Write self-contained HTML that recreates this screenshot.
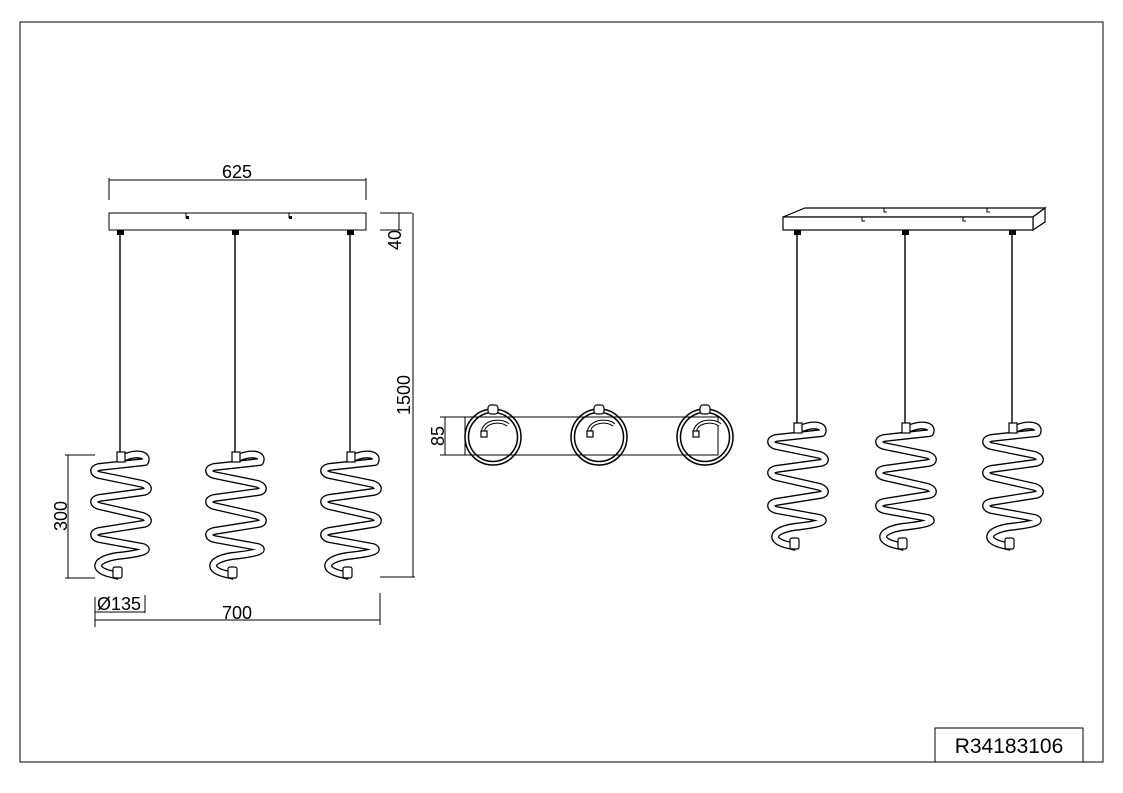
<!DOCTYPE html>
<html><head><meta charset="utf-8"><style>
html,body{margin:0;padding:0;background:#fff}
svg{display:block}
text{font-family:"Liberation Sans",Arial,sans-serif;fill:#000}
</style></head><body>
<svg width="1123" height="793" viewBox="0 0 1123 793" xmlns="http://www.w3.org/2000/svg">
<defs>
<path id="rib" d="M2,6 C15,0 28,2 24,10 L-22,15 C-29,17 -28,21 -22,23 L22,32 C29,35 28,39 22,40 L-22,46 C-29,48 -28,52 -22,54 L22,64 C29,67 28,71 22,72 L-22,79 C-29,81 -28,85 -22,87 L22,95 C29,98 24,101 -4,104 C-28,108 -28,118 -10,122 L-2,124" fill="none" stroke-linejoin="round"/>
<g id="sp">
 <use href="#rib" stroke="#000" stroke-width="8"/>
 <use href="#rib" stroke="#fff" stroke-width="5.4"/>
 <rect x="-4" y="0" width="8" height="10" fill="#fff" stroke="#000" stroke-width="1.2"/>
 <rect x="-8" y="115" width="9" height="11" rx="2" fill="#fff" stroke="#000" stroke-width="1.2"/>
</g>
<g id="ring">
 <circle cx="0" cy="0" r="28" fill="none" stroke="#000" stroke-width="1.5"/>
 <circle cx="0" cy="0" r="24.5" fill="none" stroke="#000" stroke-width="1.5"/>
 <rect x="-5" y="-32" width="10" height="9" rx="3" fill="#fff" stroke="#000" stroke-width="1.2"/>
 <path d="M-10,-6 C-8,-16 8,-18 15,-12" fill="none" stroke="#000" stroke-width="4"/>
 <path d="M-10,-6 C-8,-16 8,-18 15,-12" fill="none" stroke="#fff" stroke-width="2"/>
 <rect x="-12" y="-6" width="6" height="6" fill="#fff" stroke="#000" stroke-width="1.2"/>
</g>
</defs>
<rect x="20" y="22" width="1083" height="740" fill="none" stroke="#000" stroke-width="1"/>
<rect x="935" y="728" width="148" height="34" fill="none" stroke="#000" stroke-width="1"/>
<text x="1009" y="753" font-size="21" text-anchor="middle">R34183106</text>

<g stroke="#000" fill="none" stroke-width="1">
 <rect x="109" y="213" width="257" height="17"/>
 <path d="M186,213v5M289,213v5"/>
 <path d="M109,178v22M366,178v22M109,180H366"/>
 <path d="M380,213H412M380,230H402M399,213v17M413,213V577M380,577H415"/>
 <path d="M65,455H95M65,578H95M68,455V578"/>
 <path d="M95,597v30M145,595v18M95,612H145M95,620H380M380,593v32"/>
 <path d="M120,230V452M235,230V452M350,230V452" stroke-width="1.4"/>
</g>
<g fill="#000">
 <rect x="186" y="216" width="3" height="3"/><rect x="289" y="216" width="3" height="3"/>
 <rect x="117" y="230" width="7" height="5"/><rect x="232" y="230" width="7" height="5"/><rect x="347" y="230" width="7" height="5"/>
</g>
<text x="237" y="178" font-size="18" text-anchor="middle">625</text>
<text transform="translate(401,240) rotate(-90)" font-size="18" text-anchor="middle">40</text>
<text transform="translate(410,395) rotate(-90)" font-size="18" text-anchor="middle">1500</text>
<text transform="translate(67,516) rotate(-90)" font-size="18" text-anchor="middle">300</text>
<text x="97" y="610" font-size="18">Ø135</text>
<text x="237" y="619" font-size="18" text-anchor="middle">700</text>
<use href="#sp" x="121" y="452"/>
<use href="#sp" x="236" y="452"/>
<use href="#sp" x="351" y="452"/>

<g stroke="#000" fill="none" stroke-width="1">
 <rect x="465" y="417" width="253" height="38"/>
 <path d="M440,417H470M440,455H470M445,417V455"/>
</g>
<text transform="translate(444,436) rotate(-90)" font-size="18" text-anchor="middle">85</text>
<use href="#ring" x="493" y="437"/>
<use href="#ring" x="599" y="437"/>
<use href="#ring" x="705" y="437"/>

<g stroke="#000" fill="#fff" stroke-width="1.2">
 <path d="M783,217 L805,208 L1045,208 L1033,217 Z"/>
 <path d="M1033,217 L1045,208 L1045,222 L1033,230 Z"/>
 <rect x="783" y="217" width="250" height="13"/>
</g>
<g stroke="#000" fill="none" stroke-width="1">
 <path d="M862,217v4h3M963,217v4h3M884,208v4h3M987,208v4h3"/>
 <path d="M797,230V425M905,230V425M1012,230V425" stroke-width="1.4"/>
</g>
<g fill="#000">
 <rect x="794" y="230" width="7" height="5"/><rect x="902" y="230" width="7" height="5"/><rect x="1009" y="230" width="7" height="5"/>
</g>
<use href="#sp" x="798" y="423"/>
<use href="#sp" x="906" y="423"/>
<use href="#sp" x="1013" y="423"/>
</svg>
</body></html>
